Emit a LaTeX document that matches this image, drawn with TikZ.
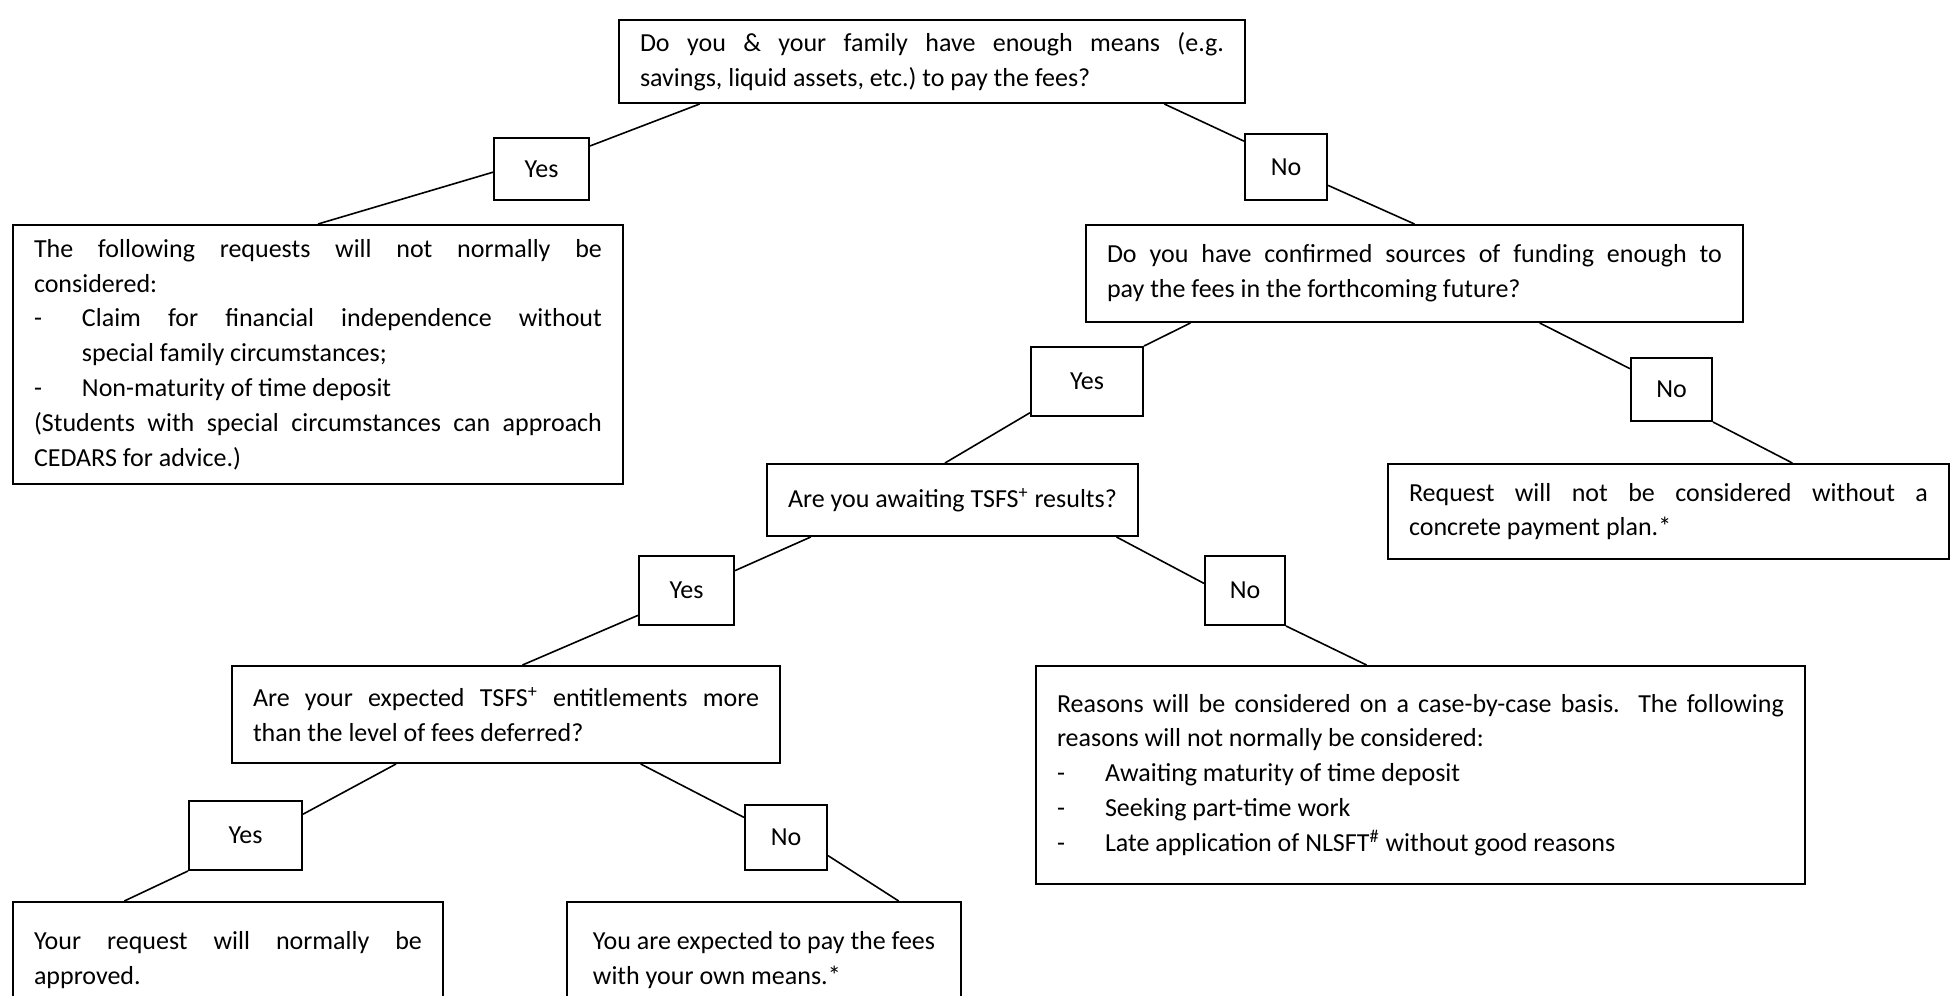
\documentclass[tikz,border=0pt]{standalone}
\usepackage{fontspec}
\setmainfont{Carlito}
\usetikzlibrary{calc}
\newcommand{\boxfont}{\fontsize{13}{17.4}\selectfont\frenchspacing}
\newcommand{\dashitem}[1]{\par\hangindent=24pt\hangafter=1\noindent\makebox[24pt][l]{-}#1}

\begin{document}
\begin{tikzpicture}[
	x=0.5pt, y=-0.5pt, % pixel grid of the page, y going down
	box/.style={draw, rectangle, line width=1pt, anchor=north west, inner xsep=10.5pt, inner ysep=0pt, align=justify, font=\boxfont},
	answer/.style={draw, rectangle, line width=1pt, anchor=north west, inner sep=0pt, align=center, font=\boxfont},
	link/.style={line width=0.8pt}
	]
	
	\useasboundingbox (0,0) rectangle (1951,996);
	
	% --- First question: own means ---
	\node[box, text width=292pt, minimum height=41.5pt] (means_q) at (618,19) {Do you \& your family have enough means (e.g.\linebreak savings, liquid assets, etc.) to pay the fees?};
	\node[answer, minimum width=47.5pt, minimum height=31pt] (yes_means) at (493,137) {Yes};
	\node[answer, minimum width=41pt, minimum height=33pt] (no_means) at (1244,133) {No};
	\node[box, text width=284pt, minimum height=129.5pt] (means_result) at (12,224) {The following requests will not normally be\linebreak considered:
		\dashitem{Claim for financial independence without\linebreak special family circumstances;}
		\dashitem{Non-maturity of time deposit}
		\par\noindent(Students with special circumstances can approach\linebreak CEDARS for advice.)};
	
	% Lines for first question
	\draw[link] ($(means_q.south west)!0.13!(means_q.south east)$) -- ($(yes_means.north east)!0.14!(yes_means.south east)$);
	\draw[link] ($(yes_means.north west)!0.55!(yes_means.south west)$) -- (means_result.north);
	\draw[link] ($(means_q.south west)!0.87!(means_q.south east)$) -- ($(no_means.north west)!0.12!(no_means.south west)$);
	
	
	% --- Second question: confirmed funding ---
	\node[box, text width=307.5pt, minimum height=48.5pt] (funding_q) at (1085,224) {Do you have confirmed sources of funding enough to\linebreak pay the fees in the forthcoming future?};
	\node[answer, minimum width=56pt, minimum height=34.5pt] (yes_funding) at (1030,346) {Yes};
	\node[answer, minimum width=40.5pt, minimum height=31.5pt] (no_funding) at (1630,357) {No};
	\node[box, text width=259.5pt, minimum height=47.5pt] (funding_result) at (1387,463) {Request will not be considered without a\linebreak concrete payment plan.*};
	
	% Lines for second question
	\draw[link] ($(no_means.north east)!0.77!(no_means.south east)$) -- (funding_q.north);
	\draw[link] ($(funding_q.south west)!0.16!(funding_q.south east)$) -- (yes_funding.north east);
	\draw[link] ($(funding_q.south west)!0.69!(funding_q.south east)$) -- ($(no_funding.north west)!0.18!(no_funding.south west)$);
	\draw[link] (no_funding.south east) -- ($(funding_result.north west)!0.72!(funding_result.north east)$);
	
	
	% --- Third question: TSFS results ---
	\node[box, align=left, minimum height=36pt] (tsfs_q) at (766,463) {Are you awaiting TSFS\textsuperscript{+} results?};
	\node[answer, minimum width=47.5pt, minimum height=34.5pt] (yes_tsfs) at (638,555) {Yes};
	\node[answer, minimum width=40pt, minimum height=34.5pt] (no_tsfs) at (1204,555) {No};
	\node[box, text width=363.5pt, minimum height=109pt] (tsfs_result) at (1035,665) {Reasons will be considered on a case-by-case basis.\ \ The following\linebreak reasons will not normally be considered:
		\dashitem{Awaiting maturity of time deposit}
		\dashitem{Seeking part-time work}
		\dashitem{Late application of NLSFT\textsuperscript{\#} without good reasons}};
	
	% Lines for third question
	\draw[link] ($(yes_funding.north west)!0.94!(yes_funding.south west)$) -- ($(tsfs_q.north west)!0.48!(tsfs_q.north east)$);
	\draw[link] ($(tsfs_q.south west)!0.12!(tsfs_q.south east)$) -- ($(yes_tsfs.north east)!0.22!(yes_tsfs.south east)$);
	\draw[link] ($(tsfs_q.south west)!0.94!(tsfs_q.south east)$) -- ($(no_tsfs.north west)!0.4!(no_tsfs.south west)$);
	\draw[link] (no_tsfs.south east) -- ($(tsfs_result.north west)!0.43!(tsfs_result.north east)$);
	
	
	% --- Fourth question: entitlements against fees ---
	\node[box, text width=253pt, minimum height=48.5pt] (entitle_q) at (231,665) {Are your expected TSFS\textsuperscript{+} entitlements more\linebreak than the level of fees deferred?};
	\node[answer, minimum width=56.5pt, minimum height=34.5pt] (yes_entitle) at (188,800) {Yes};
	\node[answer, minimum width=41pt, minimum height=32.5pt] (no_entitle) at (744,804) {No};
	\node[box, text width=194pt, minimum height=58pt] (approved_result) at (12,901) {Your request will normally be\linebreak approved.};
	\node[box, align=left, minimum width=197pt, minimum height=58pt, inner xsep=9pt] (own_result) at (566,901) {You are expected to pay the fees\\ with your own means.*};
	
	% Lines for fourth question
	\draw[link] ($(yes_tsfs.north west)!0.85!(yes_tsfs.south west)$) -- ($(entitle_q.north west)!0.53!(entitle_q.north east)$);
	\draw[link] ($(entitle_q.south west)!0.30!(entitle_q.south east)$) -- ($(yes_entitle.north east)!0.2!(yes_entitle.south east)$);
	\draw[link] (yes_entitle.south west) -- ($(approved_result.north west)!0.26!(approved_result.north east)$);
	\draw[link] ($(entitle_q.south west)!0.745!(entitle_q.south east)$) -- ($(no_entitle.north west)!0.2!(no_entitle.south west)$);
	\draw[link] ($(no_entitle.north east)!0.77!(no_entitle.south east)$) -- ($(own_result.north west)!0.84!(own_result.north east)$);
	
\end{tikzpicture}
\end{document}
